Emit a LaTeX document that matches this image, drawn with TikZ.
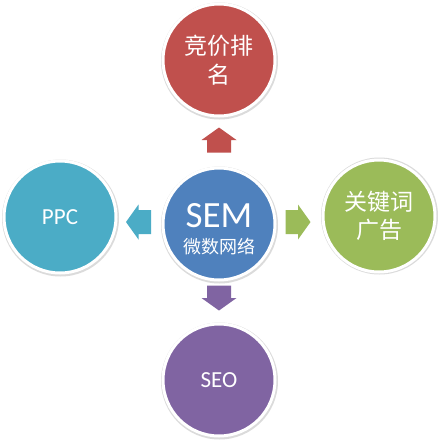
\documentclass[tikz,border=0pt]{standalone}
\usepackage{fontspec}
\setmainfont{Carlito}
\newfontfamily\cjk{Noto Sans CJK SC}
\begin{document}
\begin{tikzpicture}[x=1pt,y=-1pt,
  bubble/.style={circle, fill=#1, draw=white, line width=3pt, minimum size=112pt, inner sep=0pt, text=white, align=center},
  shade/.style={circle, fill=black!14, minimum size=117pt, inner sep=0pt},
  cjktext/.style={font=\cjk\fontsize{23}{29}\selectfont},
  label/.style={text=white, inner sep=0pt}]
\definecolor{cred}{HTML}{C0504D}
\definecolor{cblue}{HTML}{4F81BD}
\definecolor{cgreen}{HTML}{9BBB59}
\definecolor{cpurple}{HTML}{8064A2}
\definecolor{ccyan}{HTML}{4BACC6}
\tikzset{blockarrow/.pic={
  \fill[pic actions] (-12.5,-12) -- (0,-12) -- (0,-17.5) -- (12.5,0) -- (0,17.5) -- (0,12) -- (-12.5,12) -- cycle;}}
\fill[white] (0,0) rectangle (438,440);
\useasboundingbox (0,0) rectangle (438,440);
% shadows
\foreach \p in {(219.5,61),(219.5,225),(60.5,218),(379.5,216),(219.5,381)}
  \node[shade] at \p {};
% circles
\node[bubble=cred, cjktext] (top) at (219,60) {竞价排\\名};
\node[bubble=cblue] (sem) at (219,224) {};
\node[label, font=\fontsize{37}{40}\selectfont] (semt) at (219,216) {SEM};
\node[label, font=\cjk\fontsize{18}{20}\selectfont] (semc) at (219,247) {微数网络};
\node[bubble=ccyan, font=\fontsize{23}{26}\selectfont] (ppc) at (60,217) {PPC};
\node[bubble=cgreen, font=\cjk\fontsize{23}{28}\selectfont] (kw) at (379,216) {关键词\\广告};
\node[bubble=cpurple, font=\fontsize{23}{26}\selectfont] (seo) at (219,380) {SEO};
% arrows
\coordinate (aup) at (219,140);
\coordinate (aleft) at (138.5,222);
\coordinate (aright) at (298,222);
\coordinate (adown) at (219,298);
\pic[fill=cred, rotate=90] at (aup) {blockarrow};
\pic[fill=ccyan, rotate=180] at (aleft) {blockarrow};
\pic[fill=cgreen] at (aright) {blockarrow};
\pic[fill=cpurple, rotate=-90] at (adown) {blockarrow};
\end{tikzpicture}
\end{document}
